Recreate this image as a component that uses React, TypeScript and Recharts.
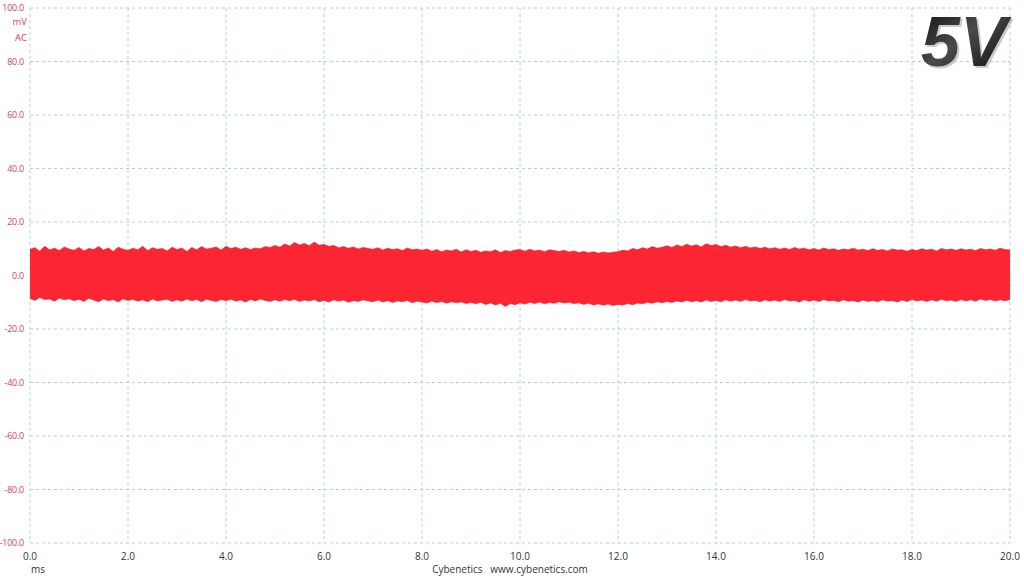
import { Area, AreaChart, CartesianGrid, XAxis, YAxis } from 'recharts';

// time axis in ms, one sample every 0.1 ms
const timeMs = Array.from({ length: 201 }, (_, i) => i / 10);

// upper envelope of the ripple, mV
const upperMv = [
  9.8, 10.4, 9.1, 10.9, 9.6, 10.2, 9.3, 10.7, 9.9, 9.4,
  10.5, 9.2, 10.1, 9.7, 10.8, 9.5, 10.3, 9.0, 10.6, 9.8,
  9.4, 10.2, 9.6, 10.9, 9.3, 10.4, 9.8, 10.1, 9.2, 10.6,
  9.7, 10.3, 9.0, 10.5, 9.6, 10.8, 9.9, 10.2, 10.7, 9.5,
  10.9, 10.1, 10.6, 9.8, 10.4, 9.7, 10.3, 10.0, 10.8, 10.5,
  11.2, 10.6, 11.8, 11.0, 12.3, 11.4, 12.0, 11.1, 12.5, 11.3,
  11.6, 10.9, 11.2, 10.4, 10.8, 10.2, 10.7, 9.9, 10.5, 10.1,
  9.8, 10.4, 9.5, 10.2, 9.7, 10.0, 9.3, 10.3, 9.6, 9.9,
  9.4, 9.9, 9.1, 9.7, 8.9, 9.5, 9.2, 9.8, 8.8, 9.6,
  9.0, 9.4, 8.7, 9.2, 8.9, 9.6, 8.6, 9.3, 9.0, 9.5,
  9.7, 9.1, 9.8, 9.2, 9.5, 8.9, 9.6, 9.3, 9.0, 9.4,
  8.8, 9.2, 8.6, 9.0, 8.5, 8.9, 8.3, 8.8, 8.4, 8.7,
  8.9, 9.5, 9.2, 10.1, 9.6, 10.4, 9.9, 10.8, 10.2, 10.6,
  11.1, 10.5, 11.4, 10.8, 11.7, 11.0, 11.5, 10.7, 11.9, 11.2,
  11.6, 10.8, 11.3, 10.6, 11.0, 10.4, 10.9, 10.3, 10.7, 10.1,
  10.6, 10.0, 10.4, 9.8, 10.3, 9.7, 10.5, 9.9, 10.2, 9.6,
  10.1, 9.5, 10.3, 9.7, 10.0, 9.4, 9.9, 9.6, 10.2, 9.5,
  9.8, 9.3, 10.0, 9.4, 9.7, 9.2, 9.9, 9.5, 9.6, 9.1,
  9.7, 9.3, 10.0, 9.5, 9.8, 9.2, 10.1, 9.6, 9.9, 9.4,
  10.0, 9.5, 9.8, 9.3, 10.1, 9.6, 9.9, 9.4, 10.2, 9.7, 9.5,
];

// lower envelope of the ripple, mV
const lowerMv = [
  -8.6, -9.3, -8.2, -9.0, -8.8, -9.6, -8.4, -9.1, -8.7, -9.4,
  -8.9, -9.7, -8.5, -9.2, -9.8, -8.8, -9.4, -9.0, -9.9, -8.7,
  -9.3, -8.9, -9.6, -9.1, -9.8, -8.8, -9.5, -9.2, -8.9, -9.7,
  -9.1, -9.6, -8.8, -9.4, -9.0, -9.8, -8.9, -9.3, -9.7, -9.0,
  -9.4, -8.9, -9.6, -9.2, -9.9, -9.0, -9.5, -8.8, -9.3, -9.7,
  -9.1, -9.6, -9.0, -9.4, -8.9, -9.7, -9.2, -9.5, -9.0, -9.8,
  -9.3, -9.9, -9.1, -9.6, -9.2, -10.0, -9.4, -9.7, -9.1, -9.5,
  -9.8, -9.2, -9.9, -9.4, -10.1, -9.5, -9.8, -9.3, -10.2, -9.6,
  -9.9, -10.3, -9.6, -10.1, -9.7, -10.4, -9.8, -10.2, -9.9, -10.5,
  -10.1, -10.6, -10.0, -10.8, -10.3, -11.0, -10.4, -11.6, -10.5, -10.9,
  -10.2, -10.7, -10.0, -10.5, -9.9, -10.6, -10.1, -10.4, -9.8, -10.3,
  -10.0, -10.5, -10.2, -10.8, -10.4, -11.0, -10.6, -11.1, -10.7, -11.2,
  -10.8, -11.0, -10.5, -10.9, -10.3, -10.6, -10.0, -10.4, -9.8, -10.2,
  -9.7, -10.1, -9.5, -9.9, -9.3, -9.8, -9.4, -9.9, -9.2, -9.7,
  -9.3, -9.8, -9.1, -9.6, -9.2, -9.7, -9.0, -9.5, -9.3, -9.8,
  -9.1, -9.6, -9.2, -9.7, -9.0, -9.5, -9.3, -9.9, -9.1, -9.6,
  -9.2, -9.7, -9.0, -9.5, -9.3, -9.8, -9.1, -9.6, -9.4, -9.9,
  -9.2, -9.7, -9.3, -9.8, -9.1, -9.6, -9.4, -9.9, -9.2, -9.7,
  -9.0, -9.5, -9.2, -9.7, -9.1, -9.6, -8.9, -9.4, -9.2, -9.7,
  -9.0, -9.5, -9.1, -9.6, -8.8, -9.3, -9.0, -9.5, -9.1, -9.4, -9.0,
];

const xTicks = [0, 2, 4, 6, 8, 10, 12, 14, 16, 18, 20];
const yTicks = [-100, -80, -60, -40, -20, 0, 20, 40, 60, 80, 100];

const rows = timeMs.map((t, i) => ({ t, range: [lowerMv[i], upperMv[i]] }));

const font = '"Open Sans", "Noto Sans", sans-serif';
const labelRed = '#d8405c';

export default function App() {
  return (
    <div style={{ position: 'absolute', left: 0, top: 0, width: 1024, height: 576, background: '#fff', fontFamily: font }}>
      <AreaChart width={1024} height={576} data={rows} margin={{ top: 8, right: 14, bottom: 3, left: 0 }}>
        <CartesianGrid stroke="#a6d4de" strokeDasharray="3 3" />
        <XAxis
          dataKey="t"
          type="number"
          domain={[0, 20]}
          ticks={xTicks}
          tickFormatter={(v: number) => v.toFixed(1)}
          axisLine={false}
          tickLine={false}
          height={30}
          tick={{ fill: '#333', fontSize: 10, fontFamily: font }}
          tickMargin={4}
          interval={0}
        />
        <YAxis
          type="number"
          domain={[-100, 100]}
          ticks={yTicks}
          width={30}
          tickFormatter={(v: number) => v.toFixed(1)}
          axisLine={false}
          tickLine={false}
          tick={{ fill: labelRed, fontSize: 9, fontFamily: font, letterSpacing: -0.25 }}
          tickMargin={0}
          interval={0}
        />
        <Area
          dataKey="range"
          type="linear"
          fill="#fc2532"
          fillOpacity={1}
          stroke="#e01f2e"
          strokeWidth={0.6}
          dot={false}
          activeDot={false}
          isAnimationActive={false}
        />
      </AreaChart>
      <svg width={1024} height={576} style={{ position: 'absolute', left: 0, top: 0, pointerEvents: 'none' }}>
        <defs>
          <linearGradient id="metal" x1="0" y1="0" x2="1" y2="1">
            <stop offset="0%" stopColor="#0d0d0d" />
            <stop offset="45%" stopColor="#4a4a4a" />
            <stop offset="100%" stopColor="#050505" />
          </linearGradient>
        </defs>
        <text x={27} y={25} textAnchor="end" fontSize={9.5} fill={labelRed} fontFamily={font}>mV</text>
        <text x={27} y={41} textAnchor="end" fontSize={9.5} fill={labelRed} fontFamily={font}>AC</text>
        <text x={38} y={573} textAnchor="middle" fontSize={10} fill="#333" fontFamily={font}>ms</text>
        <text x={510} y={573} textAnchor="middle" fontSize={10} fill="#333" fontFamily={font} xmlSpace="preserve">
          Cybenetics   www.cybenetics.com
        </text>
        <text x={921} y={66} fontSize={70} fontWeight="bold" fontStyle="italic" fontFamily='"Liberation Sans", Arial, sans-serif' fill="#999" opacity={0.5} dx={2} dy={2}>5V</text>
        <text x={921} y={66} fontSize={70} fontWeight="bold" fontStyle="italic" fontFamily='"Liberation Sans", Arial, sans-serif' fill="url(#metal)">5V</text>
      </svg>
    </div>
  );
}
